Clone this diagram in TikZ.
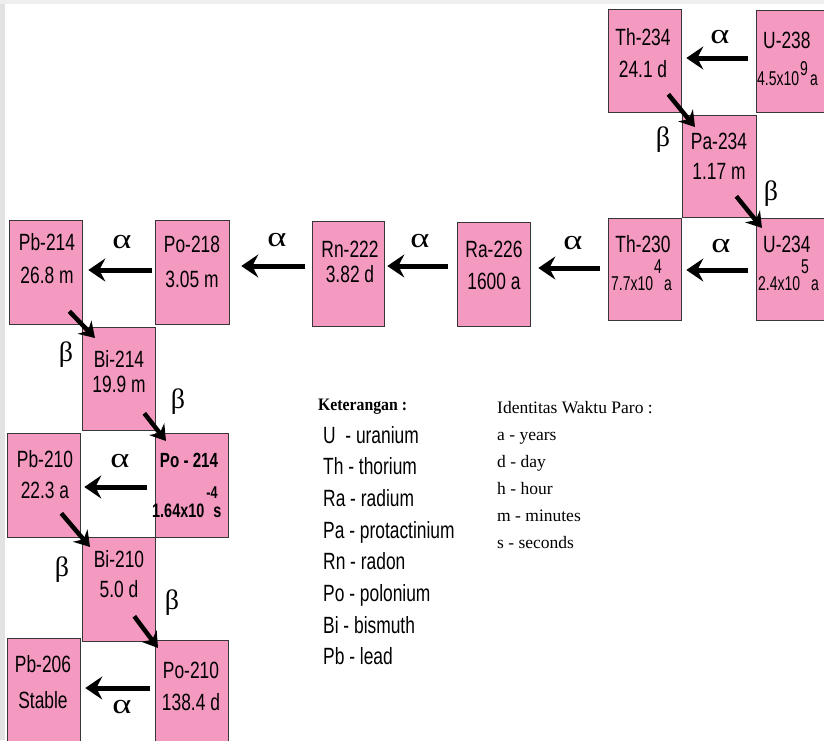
\documentclass[tikz,border=0pt]{standalone}
\usepackage{fontspec}
\usetikzlibrary{calc,arrows.meta}
\newfontfamily\nsans[FakeStretch=0.74]{Liberation Sans}
\newfontfamily\nsansexp[FakeStretch=0.7]{Liberation Sans}
\newfontfamily\lserif{Liberation Serif}
\newfontfamily\lserifnar[FakeStretch=0.9]{Liberation Serif}
\newfontfamily\grkwide[FakeStretch=1.3]{Liberation Serif}
\newfontfamily\grk{Liberation Serif}
\definecolor{nuclide}{RGB}{244,154,193}
\definecolor{edge}{RGB}{55,55,55}
\definecolor{strip}{RGB}{226,226,226}
% two centred lines with a given baseline distance
\newcommand{\pairtxt}[3]{{\fontsize{23.5}{#1}\selectfont\begin{tabular}[t]{@{}c@{}}#2\\#3\end{tabular}}}
\tikzset{
  nuc/.style={draw=edge, line width=1.3pt, fill=nuclide, anchor=north west,
    inner sep=0pt, minimum width=73pt, minimum height=104pt},
  lbl/.style={font=\nsans\fontsize{23.5}{28}\selectfont, inner sep=0pt, anchor=base},
  lblw/.style={lbl, anchor=base west},
  expo/.style={font=\nsansexp\fontsize{20}{24}\selectfont, inner sep=0pt, anchor=base west},
  decay/.style={line width=5pt, -{Stealth[length=17pt,width=23pt,inset=6pt]}},
  tilt/.style={line width=4.5pt, -{Stealth[length=15pt,width=19pt,inset=5pt]}},
  alph/.style={font=\grkwide\fontsize{28}{28}\selectfont, inner sep=0pt},
  bet/.style={font=\grk\fontsize{28}{28}\selectfont, inner sep=0pt},
}
\begin{document}
\begin{tikzpicture}[x=1pt, y=-1pt]
\useasboundingbox (0,0) rectangle (824,740);
\fill[white] (0,0) rectangle (824,740);
\fill[strip] (0,0) rectangle (5,740);
\fill[strip!60] (0,0) rectangle (824,4);

% nuclide boxes
\node[nuc, minimum height=103pt] (Th234) at (608,9) {};
\node[nuc, minimum width=80pt, minimum height=102pt] (U238) at (756,10) {};
\node[nuc, minimum width=74pt, minimum height=102pt] (Pa234) at (682,115) {};
\node[nuc, minimum height=102pt] (Th230) at (608,218) {};
\node[nuc, minimum width=80pt, minimum height=102pt] (U234) at (756,218) {};
\node[nuc] (Ra226) at (457,222) {};
\node[nuc, minimum width=72pt, minimum height=105pt] (Rn222) at (312,221) {};
\node[nuc, minimum width=74pt] (Po218) at (155,220) {};
\node[nuc] (Pb214) at (9,220) {};
\node[nuc, minimum height=103pt] (Bi214) at (82,327) {};
\node[nuc] (Pb210) at (7,433) {};
\node[nuc] (Po214) at (155,433) {};
\node[nuc] (Bi210) at (82,537) {};
\node[nuc, minimum height=110pt] (Pb206) at (7,638) {};
\node[nuc, minimum height=110pt] (Po210) at (155,640) {};

% box texts
\node[lbl] (Th234t) at ($(Th234.north west)+(35,36)$) {\pairtxt{32}{Th-234}{24.1 d}};
\node[lblw] (U238t) at ($(U238.north west)+(7,38)$) {U-238};
\node[expo] (U238h) at ($(U238.north west)+(1,75)$) {4.5x10\hspace{1pt}\raisebox{10pt}{9}\hspace{2pt}a};
\node[lbl] (Pa234t) at ($(Pa234.north west)+(37,34)$) {\pairtxt{30}{Pa-234}{1.17 m}};
\node[lbl] (Th230t) at ($(Th230.north west)+(35,34)$) {Th-230};
\node[expo] (Th230h) at ($(Th230.north west)+(3,72)$) {7.7x10\hspace{1pt}\raisebox{17pt}{4}\hspace{2pt}a};
\node[lblw] (U234t) at ($(U234.north west)+(7,34)$) {U-234};
\node[expo] (U234h) at ($(U234.north west)+(2,72)$) {2.4x10\hspace{1pt}\raisebox{17pt}{5}\hspace{2pt}a};
\node[lbl] (Ra226t) at ($(Ra226.north west)+(37,35)$) {\pairtxt{32}{Ra-226}{1600 a}};
\node[lbl] (Rn222t) at ($(Rn222.north west)+(38,36)$) {\pairtxt{25}{Rn-222}{3.82 d}};
\node[lbl] (Po218t) at ($(Po218.north west)+(37,32)$) {\pairtxt{35}{Po-218}{3.05 m}};
\node[lbl] (Pb214t) at ($(Pb214.north west)+(38,30)$) {\pairtxt{33}{Pb-214}{26.8 m}};
\node[lbl] (Bi214t) at ($(Bi214.north west)+(37,40)$) {\pairtxt{25}{Bi-214}{19.9 m}};
\node[lbl] (Pb210t) at ($(Pb210.north west)+(38,34)$) {\pairtxt{31}{Pb-210}{22.3 a}};
\node[lbl, font=\nsans\bfseries\fontsize{20.5}{24}\selectfont] (Po214t) at ($(Po214.north west)+(34,34)$) {Po - 214};
\node[lblw, font=\nsans\bfseries\fontsize{19.5}{24}\selectfont] (Po214h) at ($(Po214.north west)+(-3,84)$)
  {1.64x10\rlap{\hspace{2pt}\raisebox{19pt}{\fontsize{17}{17}\selectfont -4}}\hspace{9pt}s};
\node[lbl] (Bi210t) at ($(Bi210.north west)+(37,30)$) {\pairtxt{30}{Bi-210}{5.0 d}};
\node[lbl] (Pb206t) at ($(Pb206.north west)+(36,34)$) {\pairtxt{36}{Pb-206}{Stable}};
\node[lbl] (Po210t) at ($(Po210.north west)+(36,38)$) {\pairtxt{32}{Po-210}{138.4 d}};

% alpha decays
\draw[decay] ($(U238.north west)+(-8,48)$) -- ($(Th234.north east)+(4,49)$);
\draw[decay] ($(U234.north west)+(-8,52)$) -- ($(Th230.north east)+(4,52)$);
\draw[decay] ($(Th230.north west)+(-8,50)$) -- ($(Ra226.north east)+(7,46)$);
\draw[decay] ($(Ra226.north west)+(-9,44)$) -- ($(Rn222.north east)+(2,45)$);
\draw[decay] ($(Rn222.north west)+(-7,45)$) -- ($(Po218.north east)+(11,46)$);
\draw[decay] ($(Po218.north west)+(-3,50)$) -- ($(Pb214.north east)+(5,50)$);
\draw[decay] ($(Po214.north west)+(-8,54)$) -- ($(Pb210.north east)+(3,54)$);
\draw[decay] ($(Po210.north west)+(-5,48)$) -- ($(Pb206.north east)+(4,50)$);

% beta decays
\draw[tilt] ($(Th234.south east)+(-14,-19)$) -- ($(Pa234.north west)+(13,12)$);
\draw[tilt] ($(Pa234.south east)+(-21,-22)$) -- ($(U234.north west)+(6,10)$);
\draw[tilt] ($(Pb214.south east)+(-14,-14)$) -- ($(Bi214.north west)+(13,11)$);
\draw[tilt] ($(Bi214.south east)+(-12,-18)$) -- ($(Po214.north west)+(11,8)$);
\draw[tilt] ($(Pb210.south east)+(-20,-25)$) -- ($(Bi210.north west)+(8,10)$);
\draw[tilt] ($(Bi210.south east)+(-22,-26)$) -- ($(Po210.north west)+(3,8)$);

% decay labels
\node[alph] (a1) at (720,37) {α};
\node[alph] (a2) at (721,246) {α};
\node[alph] (a3) at (573,243) {α};
\node[alph] (a4) at (420,241) {α};
\node[alph] (a5) at (277,240) {α};
\node[alph] (a6) at (122,242) {α};
\node[alph] (a7) at (120,461) {α};
\node[alph] (a8) at (122,707) {α};
\node[bet] (b1) at (663,140) {β};
\node[bet] (b2) at (771,194) {β};
\node[bet] (b3) at (66,355) {β};
\node[bet] (b4) at (178,402) {β};
\node[bet] (b5) at (62,570) {β};
\node[bet] (b6) at (172,603) {β};

% legends
\node[inner sep=0pt, anchor=base west, font=\lserifnar\bfseries\fontsize{17.5}{20}\selectfont] (keyhead) at (318,410) {Keterangan :};
\node[inner sep=0pt, anchor=base west, font=\nsans] (keylist) at (323,443)
  {\fontsize{23.5}{31.7}\selectfont\begin{tabular}[t]{@{}l@{}}
   U\ \ - uranium\\ Th - thorium\\ Ra - radium\\ Pa - protactinium\\
   Rn - radon\\ Po - polonium\\ Bi - bismuth\\ Pb - lead\end{tabular}};
\node[inner sep=0pt, anchor=base west, font=\lserif] (units) at (497,413)
  {\fontsize{17.5}{27}\selectfont\begin{tabular}[t]{@{}l@{}}
   Identitas Waktu Paro :\\ a - years\\ d - day\\ h - hour\\ m - minutes\\ s - seconds\end{tabular}};
\end{tikzpicture}
\end{document}
